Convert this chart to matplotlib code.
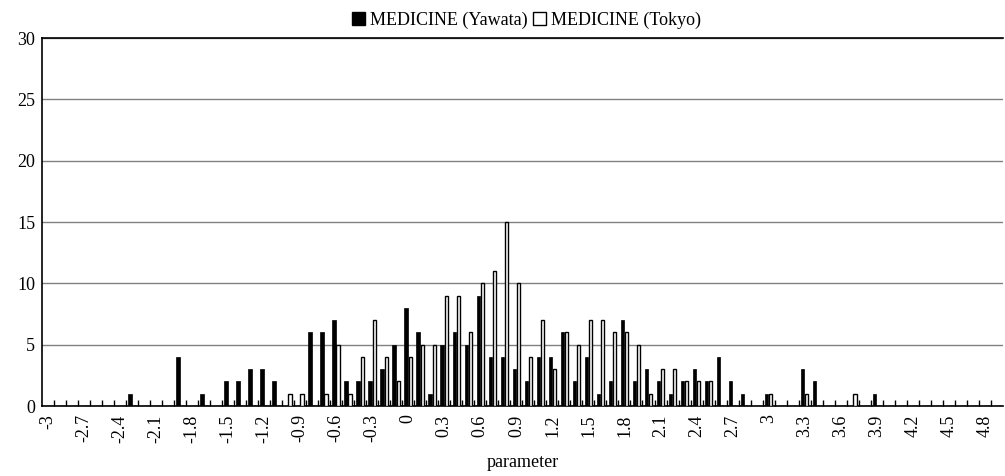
import numpy as np
import matplotlib
matplotlib.use("Agg")
import matplotlib.pyplot as plt
from matplotlib.patches import Patch

plt.rcParams['font.family'] = ['Liberation Serif', 'DejaVu Serif']

# parameter bins -3.0 .. 4.9 step 0.1
params = [round(-3 + 0.1 * i, 1) for i in range(80)]

yawata = [0, 0, 0, 0, 0, 0, 0, 1, 0, 0,
          0, 4, 0, 1, 0, 2, 2, 3, 3, 2,
          0, 0, 6, 6, 7, 2, 2, 2, 3, 5,
          8, 6, 1, 5, 6, 5, 9, 4, 4, 3,
          2, 4, 4, 6, 2, 4, 1, 2, 7, 2,
          3, 2, 1, 2, 3, 2, 4, 2, 1, 0,
          1, 0, 0, 3, 2, 0, 0, 0, 0, 1,
          0, 0, 0, 0, 0, 0, 0, 0, 0, 0]

tokyo = [0, 0, 0, 0, 0, 0, 0, 0, 0, 0,
         0, 0, 0, 0, 0, 0, 0, 0, 0, 0,
         1, 1, 0, 1, 5, 1, 4, 7, 4, 2,
         4, 5, 5, 9, 9, 6, 10, 11, 15, 10,
         4, 7, 3, 6, 5, 7, 7, 6, 6, 5,
         1, 3, 3, 2, 2, 2, 0, 0, 0, 0,
         1, 0, 0, 1, 0, 0, 0, 1, 0, 0,
         0, 0, 0, 0, 0, 0, 0, 0, 0, 0]

# label every third bin
label_idx = list(range(0, 80, 3))
labels = ['%g' % params[i] for i in label_idx]

fig = plt.figure(figsize=(10.05, 4.76), dpi=100)
ax = fig.add_axes([0.0418, 0.147, 0.956, 0.773])

x = np.arange(len(params))
w = 0.3
ax.bar(x - 0.17, yawata, width=w, color='black', edgecolor='black', linewidth=0.5, zorder=3)
ax.bar(x + 0.17, tokyo, width=w, color='white', edgecolor='black', linewidth=1.0, zorder=3)

ax.set_xlim(-0.5, 79.5)
ax.set_ylim(0, 30)
ax.set_yticks(range(0, 31, 5))
ax.yaxis.grid(True, color='#808080', linewidth=1.0, zorder=0)
ax.tick_params(axis='y', length=0, labelsize=13, pad=5)

ax.set_xticks(label_idx)
ax.set_xticklabels(labels, rotation=90, fontsize=13)
ax.tick_params(axis='x', which='major', length=0, pad=6)
ax.set_xticks(np.arange(0.5, 79.5, 1), minor=True)
ax.tick_params(axis='x', which='minor', direction='in', length=4, width=1, color='black')

for s in ['left', 'bottom', 'top']:
    ax.spines[s].set_color('black')
    ax.spines[s].set_linewidth(1.2)
ax.spines['right'].set_visible(False)

ax.set_xlabel('parameter', fontsize=13, labelpad=8)

handles = [Patch(facecolor='black', edgecolor='black', label='MEDICINE (Yawata)'),
           Patch(facecolor='white', edgecolor='black', label='MEDICINE (Tokyo)')]
fig.legend(handles=handles, loc='upper center', bbox_to_anchor=(0.524, 1.01), ncol=2,
           frameon=False, fontsize=13, handlelength=0.7, handleheight=0.7,
           handletextpad=0.3, columnspacing=0.3)

fig.savefig('out.png', dpi=100)
